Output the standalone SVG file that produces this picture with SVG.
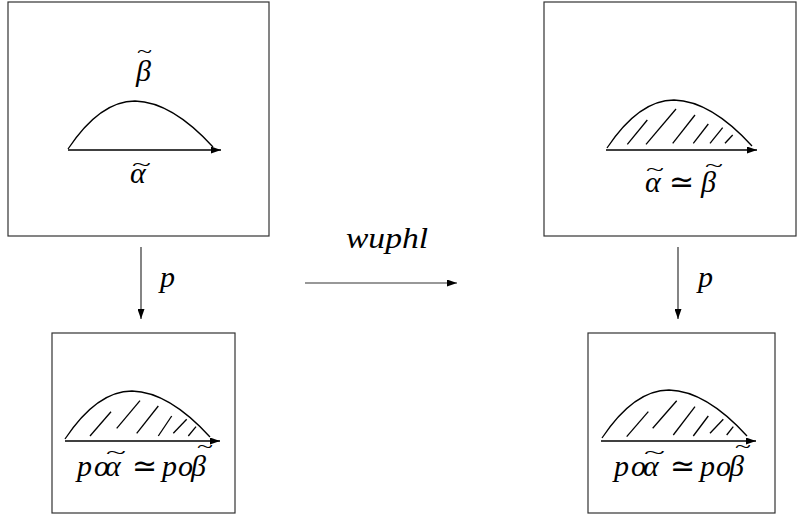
<svg xmlns="http://www.w3.org/2000/svg" width="798" height="517" viewBox="0 0 798 517">
<style>
.box{fill:none;stroke:#333;stroke-width:1.2}
.arc{fill:none;stroke:#000;stroke-width:1.3}
.hatch{stroke:#000;stroke-width:1.3;fill:none}
.conn{stroke:#333;stroke-width:1.2;fill:none}
.m{font-family:"Liberation Serif",serif;font-style:italic;font-size:30px;fill:#000}
.r{font-family:"DejaVu Sans","Liberation Serif",sans-serif;font-style:normal;font-size:30px}
.t{font-family:"Liberation Serif",serif;font-style:normal;font-size:18px}
</style>
<defs>
<marker id="ah" viewBox="0 0 10 7" refX="10" refY="3.5" markerWidth="10" markerHeight="7" markerUnits="userSpaceOnUse" orient="auto">
<path d="M0,0 L10,3.5 L0,7 z" fill="#000"/>
</marker>
<path id="arcp" d="M0,0 Q32,-48 67,-48 Q104,-47 145,-2"/>
</defs>
<g id="node-top-left">
<rect class="box" x="8" y="2" width="261" height="234"/>
<use href="#arcp" class="arc" transform="translate(68,149)"/>
<line class="arc" x1="68" y1="150" x2="221" y2="150" marker-end="url(#ah)"/>
<text class="m"><tspan x="136" y="81">β</tspan><tspan class="t" x="137" y="58" textLength="15" lengthAdjust="spacingAndGlyphs">~</tspan></text>
<text class="m"><tspan x="130" y="183">α</tspan><tspan class="t" x="132" y="171" textLength="19" lengthAdjust="spacingAndGlyphs">~</tspan></text>
</g>
<g id="node-top-right">
<rect class="box" x="544" y="2" width="252" height="234"/>
<use href="#arcp" class="arc" transform="translate(607,148)"/>
<line class="arc" x1="606" y1="150" x2="757" y2="150" marker-end="url(#ah)"/>
<g class="hatch">
<line x1="627.3" y1="144.3" x2="647.3" y2="120"/>
<line x1="646" y1="144.3" x2="676" y2="109"/>
<line x1="672.7" y1="143.3" x2="695" y2="115"/>
<line x1="693.3" y1="143.3" x2="708.3" y2="124"/>
<line x1="710" y1="143.3" x2="722.7" y2="127.7"/>
<line x1="725" y1="143.3" x2="732.7" y2="135"/>
</g>
<text class="m"><tspan x="645" y="192">α</tspan><tspan class="t" x="646" y="176" textLength="18" lengthAdjust="spacingAndGlyphs">~</tspan><tspan class="r" x="669" y="192">≃</tspan><tspan x="701" y="192">β</tspan><tspan class="t" x="705" y="172" textLength="18" lengthAdjust="spacingAndGlyphs">~</tspan></text>
</g>
<g id="node-bottom-left">
<rect class="box" x="52" y="333" width="183" height="180"/>
<use href="#arcp" class="arc" transform="translate(65,439)"/>
<line class="arc" x1="65" y1="441" x2="220" y2="441" marker-end="url(#ah)"/>
<g class="hatch">
<line x1="90" y1="436" x2="111" y2="411.7"/>
<line x1="116.7" y1="428.3" x2="140" y2="400.7"/>
<line x1="136.7" y1="433.3" x2="158.3" y2="406"/>
<line x1="158.3" y1="436" x2="171.7" y2="416"/>
<line x1="173.3" y1="433.3" x2="186.7" y2="419.3"/>
<line x1="188.3" y1="436" x2="196" y2="426.7"/>
</g>
<text class="m"><tspan x="77" y="476">p</tspan><tspan x="94" y="476">o</tspan><tspan x="105" y="476">α</tspan><tspan class="t" x="106" y="459" textLength="20" lengthAdjust="spacingAndGlyphs">~</tspan><tspan class="r" x="132" y="476">≃</tspan><tspan x="162" y="476">p</tspan><tspan x="178" y="476">o</tspan><tspan x="191" y="476">β</tspan><tspan class="t" x="197" y="453" textLength="16" lengthAdjust="spacingAndGlyphs">~</tspan></text>
</g>
<g id="node-bottom-right">
<rect class="box" x="588" y="333" width="187" height="180"/>
<use href="#arcp" class="arc" transform="translate(602,438)"/>
<line class="arc" x1="601" y1="441" x2="756" y2="441" marker-end="url(#ah)"/>
<g class="hatch">
<line x1="626.7" y1="436.7" x2="648.3" y2="411.7"/>
<line x1="652.7" y1="428.3" x2="676.7" y2="400.7"/>
<line x1="673.3" y1="435" x2="695" y2="406.7"/>
<line x1="693.3" y1="436" x2="708.3" y2="416"/>
<line x1="710" y1="433.3" x2="723.3" y2="419.3"/>
<line x1="726.7" y1="435" x2="733.3" y2="426.7"/>
</g>
<text class="m"><tspan x="614" y="476">p</tspan><tspan x="631" y="476">o</tspan><tspan x="643" y="476">α</tspan><tspan class="t" x="644" y="459" textLength="21" lengthAdjust="spacingAndGlyphs">~</tspan><tspan class="r" x="670" y="476">≃</tspan><tspan x="700" y="476">p</tspan><tspan x="716" y="476">o</tspan><tspan x="729" y="476">β</tspan><tspan class="t" x="735" y="453" textLength="16" lengthAdjust="spacingAndGlyphs">~</tspan></text>
</g>
<g id="connectors">
<line class="conn" x1="141" y1="247" x2="141" y2="319" marker-end="url(#ah)"/>
<text class="m" x="160" y="287">p</text>
<line class="conn" x1="678" y1="247" x2="678" y2="319" marker-end="url(#ah)"/>
<text class="m" x="698" y="287">p</text>
<line class="conn" x1="305" y1="283" x2="457" y2="283" marker-end="url(#ah)"/>
<text class="m" x="346" y="248" textLength="82" lengthAdjust="spacingAndGlyphs">wuphl</text>
</g>
</svg>
